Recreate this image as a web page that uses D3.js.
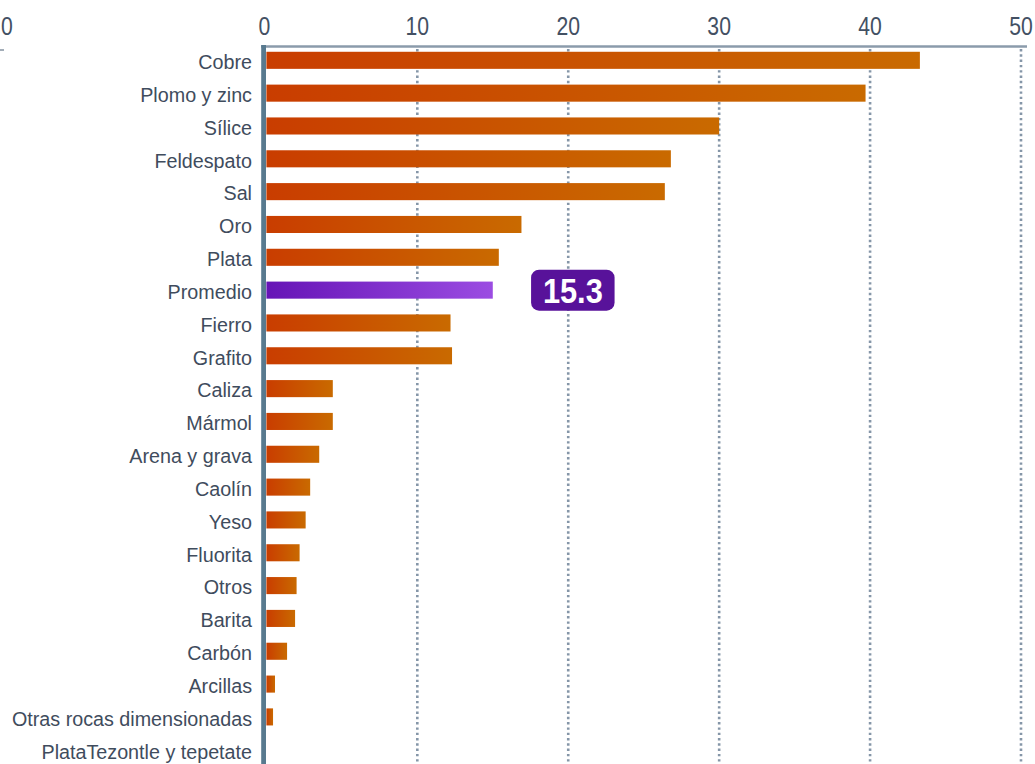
<!DOCTYPE html>
<html>
<head>
<meta charset="utf-8">
<script src="https://cdn.jsdelivr.net/npm/d3@7"></script>
<style>
  body { margin: 0; background: #fff; }
  svg { display: block; }
  text { font-family: "Liberation Sans", Arial, sans-serif; }
</style>
</head>
<body>
<svg id="chart" width="1035" height="764"></svg>
<script>
// chart values
var categories = ['Cobre', 'Plomo y zinc', 'Sílice', 'Feldespato', 'Sal', 'Oro', 'Plata', 'Promedio',
  'Fierro', 'Grafito', 'Caliza', 'Mármol', 'Arena y grava', 'Caolín', 'Yeso', 'Fluorita', 'Otros',
  'Barita', 'Carbón', 'Arcillas', 'Otras rocas dimensionadas', 'PlataTezontle y tepetate'];
var values = [43.3, 39.7, 30.0, 26.8, 26.4, 16.9, 15.4, 15.0,
  12.2, 12.3, 4.4, 4.4, 3.5, 2.9, 2.6, 2.2, 2.0,
  1.9, 1.37, 0.57, 0.44, 0];
var ticks = [0, 10, 20, 30, 40, 50];
var highlight = 'Promedio';
var highlightLabel = '15.3';

var width = 1035, height = 764;
var svg = d3.select('#chart');

var x = d3.scaleLinear().domain([0, 50]).range([266.4, 1021]);
var y = d3.scaleBand().domain(categories).range([43.9, 43.9 + categories.length * 32.83]).paddingInner(0.48).paddingOuter(0.24);

// gradients
var defs = svg.append('defs');
var gOrange = defs.append('linearGradient').attr('id', 'gradOrange')
  .attr('x1', '0%').attr('x2', '100%').attr('y1', '0%').attr('y2', '0%');
gOrange.append('stop').attr('offset', '0%').attr('stop-color', '#c93d00');
gOrange.append('stop').attr('offset', '100%').attr('stop-color', '#c96a00');
var gPurple = defs.append('linearGradient').attr('id', 'gradPurple')
  .attr('x1', '0%').attr('x2', '100%').attr('y1', '0%').attr('y2', '0%');
gPurple.append('stop').attr('offset', '0%').attr('stop-color', '#6614b6');
gPurple.append('stop').attr('offset', '100%').attr('stop-color', '#9b4ce2');

// dotted gridlines
svg.append('g').selectAll('line')
  .data(ticks.filter(d => d > 0)).enter().append('line')
  .attr('x1', d => x(d)).attr('x2', d => x(d))
  .attr('y1', 49).attr('y2', height)
  .attr('stroke', '#8596a8').attr('stroke-width', 2.6)
  .attr('stroke-dasharray', '2.4,2.9');

// top axis line + tick labels
svg.append('line')
  .attr('x1', 261).attr('x2', 1027).attr('y1', 46.5).attr('y2', 46.5)
  .attr('stroke', '#8b9bab').attr('stroke-width', 2.5);

svg.append('g').selectAll('text')
  .data(ticks).enter().append('text')
  .attr('transform', d => 'translate(' + (d == 0 ? x(d) - 2 : x(d)) + ',35) scale(0.8,1)')
  .attr('text-anchor', 'middle')
  .attr('font-size', '26.5px').attr('fill', '#435063')
  .text(d => d);

// stray fragment of a neighbouring axis at the left edge
svg.append('text')
  .attr('transform', 'translate(7,35) scale(0.8,1)')
  .attr('text-anchor', 'middle')
  .attr('font-size', '26.5px').attr('fill', '#435063')
  .text(ticks[0]);
svg.append('line')
  .attr('x1', 0).attr('x2', 4).attr('y1', 50).attr('y2', 50)
  .attr('stroke', '#a3adb8').attr('stroke-width', 2);

// bars
svg.append('g').selectAll('rect')
  .data(categories).enter().append('rect')
  .attr('x', x(0))
  .attr('y', d => y(d))
  .attr('width', (d, i) => x(values[i]) - x(0))
  .attr('height', y.bandwidth())
  .attr('fill', d => d == highlight ? 'url(#gradPurple)' : 'url(#gradOrange)');

// left axis bar
svg.append('line')
  .attr('x1', 263.6).attr('x2', 263.6).attr('y1', 45).attr('y2', height)
  .attr('stroke', '#587a8f').attr('stroke-width', 4.8);

// category labels
svg.append('g').selectAll('text')
  .data(categories).enter().append('text')
  .attr('transform', d => 'translate(252,' + (y(d) + y.bandwidth() / 2) + ') scale(0.94,1)')
  .attr('dy', '0.42em')
  .attr('text-anchor', 'end')
  .attr('font-size', '21px').attr('fill', '#3f4c5d')
  .text(d => d);

// highlight value badge
var hi = categories.indexOf(highlight);
var bx = x(values[hi]) + 38.3, bw = 83.5, bh = 41;
var by = y(highlight) + y.bandwidth() / 2 - bh / 2;
svg.append('rect')
  .attr('x', bx).attr('y', by).attr('width', bw).attr('height', bh)
  .attr('rx', 8).attr('ry', 8)
  .attr('fill', '#58129a');
svg.append('text')
  .attr('transform', 'translate(' + (bx + bw / 2) + ',' + (by + bh / 2) + ') scale(0.88,1)')
  .attr('dy', '0.36em')
  .attr('text-anchor', 'middle')
  .attr('font-size', '35px').attr('font-weight', 'bold').attr('fill', '#fff')
  .text(highlightLabel);
</script>
</body>
</html>
